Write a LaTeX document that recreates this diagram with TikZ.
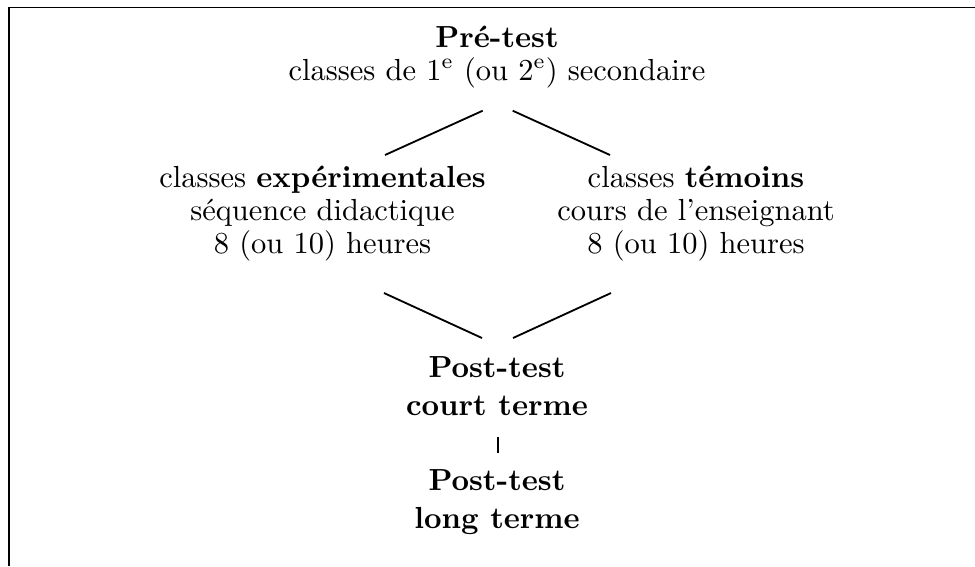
\documentclass[tikz,border=0pt]{standalone}
\usepackage{amsmath}
\usepackage{tikz}

\begin{document}
\begin{tikzpicture}[x=0.3279pt,y=-0.3279pt]
\tikzstyle{every node}=[align=center,anchor=base,font=\fontsize{10}{10.8}\selectfont];
\tikzstyle{post}=[font=\fontsize{10}{12.45}\selectfont\bfseries];
\tikzstyle{branche}=[semithick];
\useasboundingbox (0,0) rectangle (975,566);
% cadre
\draw[line width=0.55pt] (9,566) -- (9,7.5) -- (975,7.5);

\node (pre) at (497,80) {\textbf{Pré-test}\\classes de 1\textsuperscript{e} (ou 2\textsuperscript{e}) secondaire};
\node (exp) at (322.5,253) {classes \textbf{expérimentales}\\séquence didactique\\8 (ou 10) heures};
\node (tem) at (696,253) {classes \textbf{témoins}\\cours de l'enseignant\\8 (ou 10) heures};
\node[post] (court) at (497,415) {Post-test\\court terme};
\node[post] (long) at (497,528) {Post-test\\long terme};

\draw[branche] ([shift={(-14.3,30.7)}]pre.base) -- ([shift={(62.5,-98)}]exp.base);
\draw[branche] ([shift={(15.7,30.7)}]pre.base) -- ([shift={(-86,-98)}]tem.base);
\draw[branche] ([shift={(61.5,40)}]exp.base) -- ([shift={(-15,-77)}]court.base);
\draw[branche] ([shift={(-85,40)}]tem.base) -- ([shift={(16,-77)}]court.base);
\draw[branche] ([shift={(1,22)}]court.base) -- ([shift={(1,-75)}]long.base);
\end{tikzpicture}
\end{document}
